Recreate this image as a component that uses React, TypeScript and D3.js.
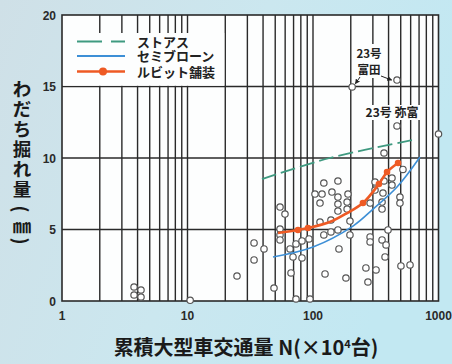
import React from "react";
import * as d3 from "d3";

// Observed rutting depth (mm) vs cumulative heavy-vehicle traffic N (×10^4 vehicles)
const obsN = [
  3.75, 4.26, 3.75, 4.26, 10.5, 24.8, 33.9, 40.7, 33.9, 48.9,
  54.6, 59.8, 54.6, 54.6, 54.6, 65.6, 73.2, 81.7, 92.9, 69.3,
  81.7, 66.8, 73.2, 94.6, 103.7, 118, 113.7, 122, 158, 141.6,
  158, 158, 190, 187, 158, 187, 113.7, 139, 197, 197,
  122, 139, 158, 161, 124.7, 183, 264, 274, 318, 285,
  285, 355, 382, 375, 396, 285, 312, 312, 368, 361,
  355, 355, 426, 426, 493, 493, 502, 593, 368, 205,
  467, 467, 1000, 521,
];
const obsRut = [
  0.98, 0.77, 0.42, 0.28, 0.05, 1.75, 4.06, 3.64, 2.87, 0.91,
  6.57, 6.08, 5.03, 4.62, 4.27, 3.64, 3.99, 4.2, 4.34, 3.08,
  3.01, 1.96, 0.14, 0.14, 7.48, 7.48, 6.85, 8.25, 8.39, 7.62,
  7.27, 6.78, 7.48, 6.92, 6.29, 6.43, 5.52, 5.66, 5.59, 4.62,
  4.62, 4.83, 4.97, 3.64, 1.89, 1.61, 2.31, 1.33, 2.17, 4.48,
  4.13, 4.27, 3.92, 3.08, 4.97, 6.85, 8.32, 7.76, 8.39, 7.55,
  6.92, 6.43, 8.6, 8.11, 7.27, 6.85, 2.45, 2.52, 10.35, 14.97,
  15.45, 12.24, 11.68, 9.2,
];

// Trend curves
const asphaltN = [39.2, 136, 626];
const asphaltRut = [8.53, 10.0, 11.26];
const semiBlownN = [48, 100, 208, 301, 467, 712];
const semiBlownRut = [3.08, 3.78, 5.24, 6.43, 7.97, 10.07];
const rubitN = [52.6, 75.9, 91.2, 136, 187, 250, 335, 389, 476];
const rubitRut = [4.76, 4.97, 5.1, 5.52, 6.15, 6.85, 8.18, 9.02, 9.65];
const rubitMarkN = [75.9, 91.2, 250, 335, 389, 476];
const rubitMarkRut = [4.97, 5.1, 6.85, 8.18, 9.02, 9.65];

const legendLabels = ["ストアス", "セミブローン", "ルビット舗装"];
const xTickValues = [1, 10, 100, 1000];
const yTickValues = [0, 5, 10, 15, 20];
const yTitleChars = ["わ", "だ", "ち", "掘", "れ", "量", "(", "㎜", ")"];

const W = 452;
const H = 364;
const GREEN = "#3f9a80";
const BLUE = "#3d8fd6";
const ORANGE = "#ee5a24";
const GRID = "#2a2a2a";
const CJK = "'Noto Sans CJK JP', sans-serif";
const LATIN = "'Liberation Sans', Arial, sans-serif";

export default function App() {
  const x = d3.scaleLog().domain([1, 1000]).range([62, 438.5]);
  const y = d3.scaleLinear().domain([0, 20]).range([301, 15]);

  const minor: number[] = [];
  [1, 10, 100].forEach((d) => {
    for (let k = 2; k <= 9; k++) minor.push(d * k);
  });
  const vLines = [...minor, 10, 100];

  const line = d3
    .line<[number, number]>()
    .x((d) => x(d[0]))
    .y((d) => y(d[1]))
    .curve(d3.curveCatmullRom.alpha(0.5));

  const zip = (a: number[], b: number[]) => a.map((v, i) => [v, b[i]] as [number, number]);

  const [x0, x1] = x.range();
  const [yb, yt] = y.range();

  const legendY = [41.5, 56, 71.5];

  return (
    <svg
      width={W}
      height={H}
      viewBox={`0 0 ${W} ${H}`}
      style={{ position: "fixed", left: 0, top: 0, display: "block" }}
    >
      <defs>
        <linearGradient id="bg" x1="0" y1="0" x2="1" y2="0.3">
          <stop offset="0" stopColor="#cfe0e7" />
          <stop offset="0.55" stopColor="#cbe7ef" />
          <stop offset="1" stopColor="#c2e8f2" />
        </linearGradient>
        <marker id="arr" viewBox="0 0 6 6" refX="5" refY="3" markerWidth="5" markerHeight="5" orient="auto">
          <path d="M0,0 L6,3 L0,6 z" fill="#222" />
        </marker>
      </defs>
      <rect x={0} y={0} width={W} height={H} fill="url(#bg)" />

      {/* plot area */}
      <rect x={x0} y={yt} width={x1 - x0} height={yb - yt} fill="#fdfefe" />

      {/* grid */}
      {vLines.map((v) => (
        <line key={`v${v}`} x1={x(v)} x2={x(v)} y1={yt} y2={yb} stroke={GRID} strokeWidth={1.4} />
      ))}
      {[5, 10, 15].map((v) => (
        <line key={`h${v}`} x1={x0} x2={x1} y1={y(v)} y2={y(v)} stroke={GRID} strokeWidth={1.4} />
      ))}

      {/* legend box */}
      <rect x={x0 + 1} y={33} width={x(20) - x0 - 2} height={y(15) - 33 - 0.7} fill="#fdfefe" />

      {/* annotation backgrounds */}
      <rect x={353} y={44} width={33} height={34} fill="#fdfefe" />
      <rect x={362} y={105} width={61} height={15} fill="#fdfefe" />

      <rect x={x0} y={yt} width={x1 - x0} height={yb - yt} fill="none" stroke={GRID} strokeWidth={1.6} />

      {/* observations */}
      {obsN.map((n, i) => (
        <circle
          key={`o${i}`}
          cx={x(n)}
          cy={y(obsRut[i])}
          r={3.2}
          fill="#ffffff"
          stroke="#555"
          strokeWidth={1.2}
        />
      ))}

      {/* trend curves */}
      <path d={line(zip(asphaltN, asphaltRut)) || ""} fill="none" stroke={GREEN} strokeWidth={1.8} strokeDasharray="15 5" />
      <path d={line(zip(semiBlownN, semiBlownRut)) || ""} fill="none" stroke={BLUE} strokeWidth={1.6} />
      <path d={line(zip(rubitN, rubitRut)) || ""} fill="none" stroke={ORANGE} strokeWidth={2.6} />
      {rubitMarkN.map((n, i) => (
        <circle key={`r${i}`} cx={x(n)} cy={y(rubitMarkRut[i])} r={3.3} fill={ORANGE} />
      ))}

      {/* legend */}
      <line x1={77} x2={125} y1={legendY[0]} y2={legendY[0]} stroke={GREEN} strokeWidth={1.8} strokeDasharray="25 9" />
      <line x1={77} x2={125} y1={legendY[1]} y2={legendY[1]} stroke={BLUE} strokeWidth={1.8} />
      <line x1={77} x2={125} y1={legendY[2]} y2={legendY[2]} stroke={ORANGE} strokeWidth={2.6} />
      <circle cx={103} cy={legendY[2]} r={4} fill={ORANGE} />
      {legendLabels.map((t, i) => (
        <text
          key={t}
          x={137}
          y={legendY[i] + 5}
          fontFamily={CJK}
          fontWeight={700}
          fontSize={13}
          fill="#222"
        >
          {t}
        </text>
      ))}

      {/* annotations */}
      <text x={369} y={58} textAnchor="middle" fontFamily={CJK} fontWeight={700} fontSize={11.5} fill="#222">
        23号
      </text>
      <text x={369} y={74} textAnchor="middle" fontFamily={CJK} fontWeight={700} fontSize={11.5} fill="#222">
        富田
      </text>
      <line x1={360} y1={77} x2={355.5} y2={83.5} stroke="#222" strokeWidth={1} markerEnd="url(#arr)" />
      <line x1={381} y1={76} x2={391.5} y2={80} stroke="#222" strokeWidth={1} markerEnd="url(#arr)" />
      <text x={392} y={117} textAnchor="middle" fontFamily={CJK} fontWeight={700} fontSize={12} fill="#222">
        23号 弥富
      </text>

      {/* ticks */}
      {xTickValues.map((v) => (
        <text key={`xt${v}`} x={x(v)} y={320} textAnchor="middle" fontFamily={LATIN} fontWeight={700} fontSize={12} fill="#2a2a2a">
          {v}
        </text>
      ))}
      {yTickValues.map((v) => (
        <text key={`yt${v}`} x={56} y={y(v) + 4.5} textAnchor="end" fontFamily={LATIN} fontWeight={700} fontSize={12} fill="#2a2a2a">
          {v}
        </text>
      ))}

      {/* axis titles */}
      {yTitleChars.map((c, i) => {
        const cy = [88, 108, 128, 148, 168, 188, 209, 225, 241][i];
        const paren = c === "(" || c === ")";
        return (
          <text
            key={`yc${i}`}
            x={22}
            y={cy}
            textAnchor="middle"
            dominantBaseline="central"
            fontFamily={CJK}
            fontWeight={700}
            fontSize={18.5}
            fill="#1a1a1a"
            transform={paren ? `rotate(90 22 ${cy})` : undefined}
          >
            {c}
          </text>
        );
      })}
      <text x={246} y={355} textAnchor="middle" fontFamily={CJK} fontWeight={700} fontSize={20} fill="#1a1a1a">
        累積大型車交通量 N(×10<tspan dy={-7} fontSize={11}>4</tspan>
        <tspan dy={7}>台)</tspan>
      </text>
    </svg>
  );
}
